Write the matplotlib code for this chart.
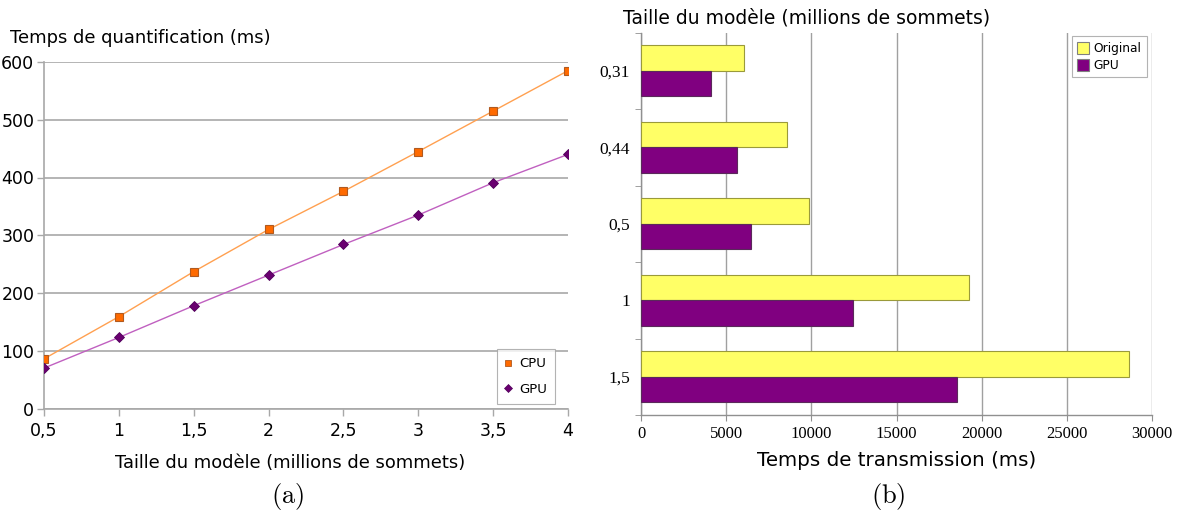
import matplotlib
matplotlib.use("Agg")
import matplotlib.pyplot as plt
from matplotlib.lines import Line2D
import numpy as np

# --- (a) quantification time vs. model size ---
sizes = [0.5, 1.0, 1.5, 2.0, 2.5, 3.0, 3.5, 4.0]
cpu_ms = [86, 159, 237, 310, 376, 445, 515, 585]
gpu_ms = [70, 123, 178, 231, 284, 335, 391, 440]
size_labels = ["0,5", "1", "1,5", "2", "2,5", "3", "3,5", "4"]
y_ticks_a = [0, 100, 200, 300, 400, 500, 600]

# --- (b) transmission time per model size ---
models = ["0,31", "0,44", "0,5", "1", "1,5"]
original_ms = [6060, 8590, 9840, 19270, 28660]
gpu_tx_ms = [4090, 5630, 6470, 12420, 18530]
x_ticks_b = [0, 5000, 10000, 15000, 20000, 25000, 30000]

W, H = 1180, 516
fig = plt.figure(figsize=(W / 100, H / 100), dpi=100)
plt.rcParams["mathtext.fontset"] = "cm"


def frac(x0, y0, x1, y1):
    return [x0 / W, 1 - y1 / H, (x1 - x0) / W, (y1 - y0) / H]


grid_c = "#a8a8a8"

# ---------------- left panel ----------------
ax1 = fig.add_axes(frac(44, 62, 568, 408.5))
ax1.plot(sizes, cpu_ms, color="#ffa050", lw=1.0, zorder=3)
ax1.plot(sizes, cpu_ms, ls="none", marker="s", ms=6.2, mfc="#ff6a00",
         mec="#b05a20", mew=0.8, zorder=4)
ax1.plot(sizes, gpu_ms, color="#c060c0", lw=1.0, zorder=3)
ax1.plot(sizes, gpu_ms, ls="none", marker="D", ms=4.7, mfc="#6a0070",
         mec="#50005a", mew=0.6, zorder=4)
ax1.set_xlim(0.5, 4.0)
ax1.set_ylim(0, 600)
ax1.set_xticks(sizes)
ax1.set_xticklabels(size_labels)
ax1.set_yticks(y_ticks_a)
ax1.yaxis.grid(True, color=grid_c, lw=1.2)
ax1.set_axisbelow(True)
for s in ("top", "right"):
    ax1.spines[s].set_visible(False)
for s in ("left", "bottom"):
    ax1.spines[s].set_color(grid_c)
    ax1.spines[s].set_linewidth(1.2)
ax1.tick_params(axis="both", colors=grid_c, labelcolor="black", length=5,
                width=1, labelsize=12.5)
ax1.tick_params(axis="y", pad=2)
ax1.tick_params(axis="x", pad=5)

leg1 = ax1.legend(
    handles=[
        Line2D([], [], ls="none", marker="s", ms=5, mfc="#ff6a00", mec="#b05a20", mew=0.6),
        Line2D([], [], ls="none", marker="D", ms=4, mfc="#6a0070", mec="#50005a", mew=0.5),
    ],
    labels=["CPU", "GPU"], loc="lower right", bbox_to_anchor=(0.975, 0.014),
    fontsize=9.5, frameon=True, fancybox=False, edgecolor="#a0a0a0",
    handlelength=0.5, handletextpad=0.6, borderpad=0.6, labelspacing=0.95,
    borderaxespad=0.0)
leg1.get_frame().set_linewidth(0.8)

fig.text(10 / W, 1 - 38 / H, "Temps de quantification (ms)", fontsize=12.9,
         ha="left", va="center")
fig.text(290 / W, 1 - 463 / H, "Taille du modèle (millions de sommets)",
         fontsize=12.9, ha="center", va="center")

# ---------------- right panel ----------------
ax2 = fig.add_axes(frac(641, 32.5, 1152, 415))
pos = np.arange(len(models))
bh = 0.335
ax2.barh(pos - bh / 2, original_ms, height=bh, color="#ffff66",
         edgecolor="#9a9a3a", lw=0.8, zorder=3, label="Original")
ax2.barh(pos + bh / 2, gpu_tx_ms, height=bh, color="#800080",
         edgecolor="#5a2a5a", lw=0.8, zorder=3, label="GPU")
ax2.set_ylim(len(models) - 0.5, -0.5)
ax2.set_xlim(0, 30000)
ax2.set_yticks(pos)
ax2.set_yticklabels(models, fontfamily="Liberation Serif", fontsize=12.5)
ax2.set_yticks(np.arange(len(models) + 1) - 0.5, minor=True)
ax2.set_xticks(x_ticks_b)
ax2.set_xticklabels([str(v) for v in x_ticks_b], fontfamily="Liberation Serif",
                    fontsize=12)
ax2.xaxis.grid(True, color="#a0a0a0", lw=1.0)
ax2.set_axisbelow(True)
for s in ("top", "right"):
    ax2.spines[s].set_visible(False)
for s in ("left", "bottom"):
    ax2.spines[s].set_color("#909090")
    ax2.spines[s].set_linewidth(1.0)
ax2.tick_params(axis="y", which="major", length=0, pad=8)
ax2.tick_params(axis="y", which="minor", length=4, color="#909090")
ax2.tick_params(axis="x", length=4, color="#909090", pad=4)

leg2 = ax2.legend(loc="upper right", bbox_to_anchor=(0.99, 0.99), fontsize=8.8,
                  frameon=True, fancybox=False, edgecolor="#a0a0a0",
                  handlelength=1.0, handleheight=1.15, handletextpad=0.35,
                  borderpad=0.45, labelspacing=0.3, borderaxespad=0.0)
leg2.get_frame().set_linewidth(0.8)
for h in leg2.legend_handles:
    h.set_edgecolor("#808080")

fig.text(807 / W, 1 - 18 / H, "Taille du modèle (millions de sommets)",
         fontsize=13.5, ha="center", va="center")
fig.text(897 / W, 1 - 461 / H, "Temps de transmission (ms)", fontsize=14.3,
         ha="center", va="center")

# sub-figure captions
fig.text(288 / W, 1 - 497 / H, r"$\mathrm{(a)}$", fontsize=19, ha="center",
         va="center")
fig.text(888 / W, 1 - 497 / H, r"$\mathrm{(b)}$", fontsize=19, ha="center",
         va="center")

fig.savefig("out.png", dpi=100, facecolor="white")
